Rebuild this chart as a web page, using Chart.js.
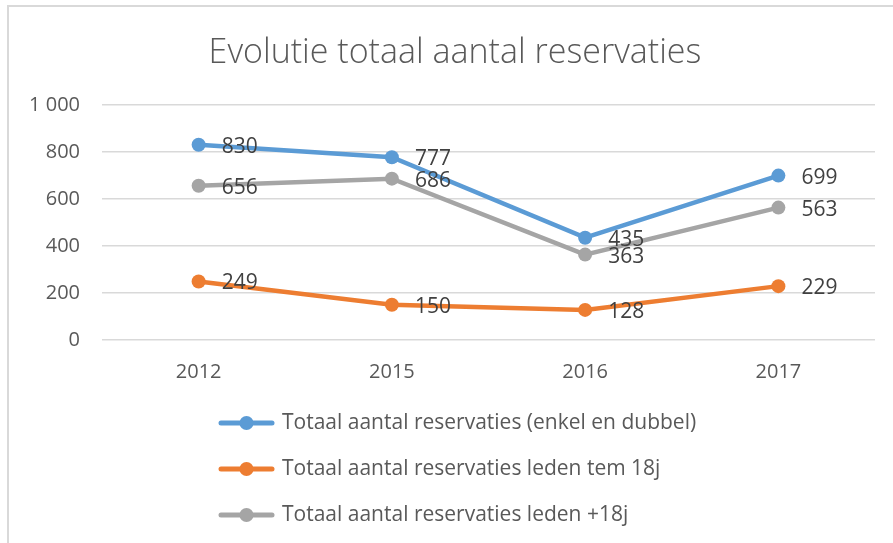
<!DOCTYPE html>
<html>
<head>
<meta charset="utf-8">
<script src="https://cdn.jsdelivr.net/npm/chart.js@4"></script>
<style>
  html, body { margin: 0; padding: 0; background: #fff; }
  #wrap { position: relative; width: 893px; height: 543px; overflow: hidden; }
  #frame {
    position: absolute; left: 7px; top: 5px; width: 900px; height: 560px;
    border-top: 2px solid #d9d9d9; border-left: 2px solid #d9d9d9;
    pointer-events: none;
  }
  canvas { display: block; }
</style>
</head>
<body>
<div id="wrap">
  <canvas id="chart" width="893" height="543"></canvas>
  <div id="frame"></div>
</div>
<script>
const FONT = "'Open Sans', 'Noto Sans', sans-serif";

const titleText = "Evolutie totaal aantal reservaties";
const years = ["2012", "2015", "2016", "2017"];
const totalAll = [830, 777, 435, 699];
const upTo18 = [249, 150, 128, 229];
const over18 = [656, 686, 363, 563];
const seriesNames = [
  "Totaal aantal reservaties (enkel en dubbel)",
  "Totaal aantal reservaties leden tem 18j",
  "Totaal aantal reservaties leden +18j",
];
const seriesColors = ["#5b9bd5", "#ed7d31", "#a5a5a5"];

function fmt(v) {
  // Dutch style thousands separator with a space
  return String(v).replace(/\B(?=(\d{3})+(?!\d))/g, " ");
}

// the Excel title is centred on the whole frame, not on the padded box
const centreTitle = {
  id: "centreTitle",
  afterLayout(chart) {
    if (!chart.titleBlock) return;
    chart.titleBlock.left = 17;
    chart.titleBlock.right = 893;
  },
};

// values drawn to the right of each point
const pointLabels = {
  id: "pointLabels",
  afterDatasetsDraw(chart) {
    const ctx = chart.ctx;
    ctx.save();
    ctx.font = "21px " + FONT;
    ctx.fillStyle = "#404040";
    ctx.textAlign = "left";
    ctx.textBaseline = "middle";
    chart.data.datasets.forEach((ds, i) => {
      chart.getDatasetMeta(i).data.forEach((pt, j) => {
        ctx.fillText(fmt(ds.data[j]), pt.x + 23, pt.y + 2);
      });
    });
    ctx.restore();
  },
};

// vertical legend under the plot, like the Excel original
const stackedLegend = {
  id: "stackedLegend",
  afterDraw(chart) {
    const ctx = chart.ctx;
    const top = chart.chartArea.bottom + 83;
    ctx.save();
    chart.data.datasets.forEach((ds, i) => {
      const y = top + i * 46;
      ctx.strokeStyle = ds.borderColor;
      ctx.lineWidth = 5;
      ctx.lineCap = "round";
      ctx.beginPath();
      ctx.moveTo(221, y);
      ctx.lineTo(272, y);
      ctx.stroke();
      ctx.fillStyle = ds.borderColor;
      ctx.beginPath();
      ctx.arc(246.5, y, 7, 0, Math.PI * 2);
      ctx.fill();
      ctx.font = "21px " + FONT;
      ctx.fillStyle = "#595959";
      ctx.textAlign = "left";
      ctx.textBaseline = "middle";
      ctx.fillText(ds.label, 282, y);
    });
    ctx.restore();
  },
};

function makeSeries(label, data, color) {
  return {
    label,
    data,
    borderColor: color,
    backgroundColor: color,
    borderWidth: 4.5,
    tension: 0,
    pointRadius: 7,
    pointBorderWidth: 0,
    pointBackgroundColor: color,
  };
}

new Chart(document.getElementById("chart"), {
  type: "line",
  data: {
    labels: years,
    datasets: [
      makeSeries(seriesNames[0], totalAll, seriesColors[0]),
      makeSeries(seriesNames[1], upTo18, seriesColors[1]),
      makeSeries(seriesNames[2], over18, seriesColors[2]),
    ],
  },
  options: {
    responsive: false,
    animation: false,
    layout: { padding: { left: 10, right: 18, top: 0, bottom: 159 } },
    scales: {
      x: {
        offset: true,
        afterFit: (scale) => { scale.height = 44; },
        grid: { display: false, drawTicks: false },
        border: { display: false },
        ticks: { color: "#595959", font: { family: FONT, size: 20 }, padding: 20, maxRotation: 0 },
      },
      y: {
        min: 0,
        max: 1000,
        afterFit: (scale) => { scale.width = 92; },
        grid: { color: "#d9d9d9", lineWidth: 1.5, drawTicks: false },
        border: { display: false },
        ticks: {
          stepSize: 200,
          color: "#595959",
          font: { family: FONT, size: 20 },
          padding: 22,
          callback: (v) => fmt(v),
        },
      },
    },
    plugins: {
      legend: { display: false },
      tooltip: { enabled: false },
      title: {
        display: true,
        text: titleText,
        color: "#595959",
        font: { family: FONT, size: 34, weight: "300" },
        padding: { top: 33, bottom: 31 },
      },
    },
  },
  plugins: [centreTitle, pointLabels, stackedLegend],
});
</script>
</body>
</html>
